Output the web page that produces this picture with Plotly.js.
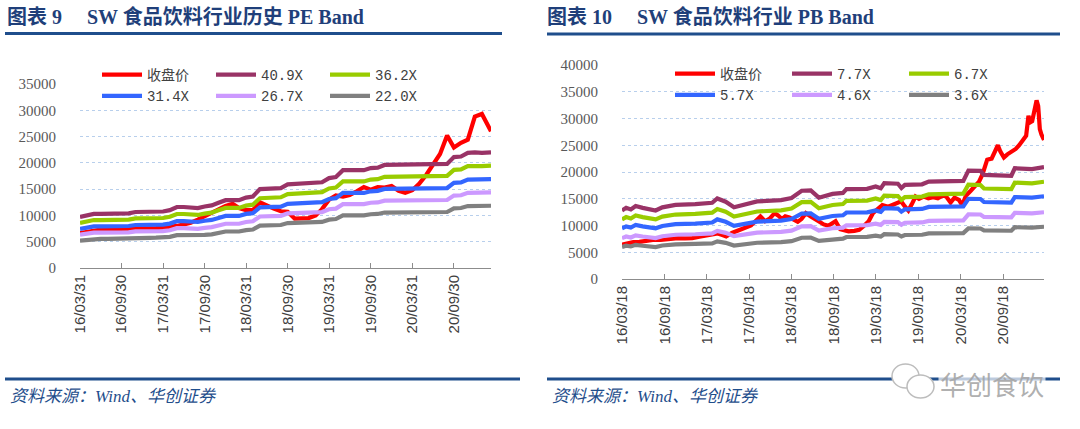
<!DOCTYPE html>
<html><head><meta charset="utf-8">
<script src="https://cdn.plot.ly/plotly-3.0.1.min.js"></script>
<style>
body{margin:0;background:#fff;width:1080px;height:429px;overflow:hidden;position:relative}
#pe{position:absolute;left:0;top:0;width:540px;height:429px}
#pb{position:absolute;left:540px;top:0;width:540px;height:429px}
</style>
</head><body><div id="pe"></div><div id="pb"></div>
<script>
// ---------- PE Band (left) ----------
const peDates = ['2016-03-31','2016-04-30','2016-05-31','2016-06-30','2016-07-31','2016-08-31','2016-09-30','2016-10-31','2016-11-30','2016-12-31',
'2017-01-31','2017-02-28','2017-03-31','2017-04-30','2017-05-31','2017-06-30','2017-07-31','2017-08-31','2017-09-30','2017-10-31','2017-11-30','2017-12-31',
'2018-01-31','2018-02-28','2018-03-31','2018-04-30','2018-05-31','2018-06-30','2018-07-31','2018-08-31','2018-09-30','2018-10-31','2018-11-30','2018-12-31',
'2019-01-31','2019-02-28','2019-03-31','2019-04-30','2019-05-31','2019-06-30','2019-07-31','2019-08-31','2019-09-30','2019-10-31','2019-11-30','2019-12-31',
'2020-01-31','2020-02-29','2020-03-31','2020-04-30','2020-05-31','2020-06-30','2020-07-31','2020-08-31','2020-09-30','2020-10-31','2020-11-30','2020-12-31',
'2021-01-31','2021-03-12'];
const peClose = [6650,6900,7200,7300,7400,7400,7400,7400,7400,7450,7500,7600,7700,7800,8000,8300,8600,9200,9800,10600,
11200,11800,12200,11400,11000,11000,12500,11800,11300,10800,10700,9400,9400,9500,10000,11200,13000,13800,13600,13900,
14600,15400,14900,15400,15300,15600,14700,14300,14800,16000,17700,19600,21700,25200,22900,23800,24400,28800,29300,26000];
const pe409 = [9700,10000,10300,10300,10300,10300,10350,10400,10650,10650,10650,10700,10750,11000,11600,11600,11400,11400,11700,11900,
12400,12900,12900,12900,13400,13600,15000,15100,15100,15200,15900,16000,16200,16200,16200,16300,17100,17300,18600,18600,
18600,18600,19000,19100,19600,19600,19600,19600,19700,19700,19700,19700,19700,19800,21100,21200,21900,22000,21900,22000];
const pe362 = [8580,8850,9120,9120,9120,9120,9160,9200,9430,9430,9430,9470,9510,9740,10270,10270,10090,10090,10350,10530,
10970,11420,11420,11420,11860,12040,13280,13360,13360,13450,14070,14160,14340,14340,14340,14430,15130,15310,16460,16460,
16460,16460,16820,16900,17350,17350,17350,17350,17430,17430,17430,17430,17430,17520,18670,18760,19380,19470,19380,19470];
const pe314 = [7450,7680,7910,7910,7910,7910,7950,7990,8180,8180,8180,8220,8260,8450,8910,8910,8750,8750,8990,9140,
9520,9910,9910,9910,10290,10440,11520,11600,11600,11670,12210,12290,12440,12440,12440,12520,13130,13290,14280,14280,
14280,14280,14590,14670,15050,15050,15050,15050,15130,15130,15130,15130,15130,15210,16200,16280,16820,16900,16820,16900];
const pe267 = [6330,6530,6730,6730,6730,6730,6760,6790,6950,6950,6950,6990,7020,7180,7570,7570,7440,7440,7640,7770,
8100,8420,8420,8420,8750,8880,9800,9860,9860,9930,10380,10450,10580,10580,10580,10640,11170,11300,12150,12150,
12150,12150,12410,12470,12800,12800,12800,12800,12860,12860,12860,12860,12860,12930,13780,13840,14300,14370,14300,14370];
const pe220 = [5220,5380,5540,5540,5540,5540,5570,5600,5730,5730,5730,5760,5780,5920,6240,6240,6130,6130,6290,6400,
6670,6940,6940,6940,7210,7320,8070,8120,8120,8180,8550,8610,8720,8720,8720,8770,9200,9310,10010,10010,
10010,10010,10220,10280,10550,10550,10550,10550,10600,10600,10600,10600,10600,10650,11350,11410,11780,11840,11780,11840];
const peNames = ['收盘价','40.9X','36.2X','31.4X','26.7X','22.0X'];
const peTickVals = ['2016-03-31','2016-09-30','2017-03-31','2017-09-30','2018-03-31','2018-09-30','2019-03-31','2019-09-30','2020-03-31','2020-09-30'];
const peTickText = ['16/03/31','16/09/30','17/03/31','17/09/30','18/03/31','18/09/30','19/03/31','19/09/30','20/03/31','20/09/30'];

// ---------- PB Band (right) ----------
const pbDates = ['2016-03-18','2016-04-15','2016-05-06','2016-06-01','2016-06-20','2016-07-15','2016-08-05','2016-09-01','2016-09-20','2016-10-15','2016-11-15','2016-12-15',
'2017-01-15','2017-02-15','2017-03-15','2017-04-12','2017-05-05','2017-05-25','2017-06-10','2017-07-05','2017-07-25','2017-08-20','2017-09-07','2017-09-25','2017-10-10','2017-11-05','2017-11-25','2017-12-15',
'2018-01-05','2018-01-20','2018-02-05','2018-02-20','2018-03-10','2018-04-01','2018-04-15','2018-05-01','2018-05-20','2018-06-10','2018-06-25','2018-07-15','2018-08-05','2018-08-25','2018-09-12','2018-09-25','2018-10-15','2018-11-01','2018-11-20','2018-12-15',
'2019-01-05','2019-01-25','2019-02-15','2019-03-05','2019-03-25','2019-04-15','2019-05-10','2019-05-30','2019-06-20','2019-07-05','2019-07-20','2019-08-05','2019-08-20','2019-09-05','2019-09-20','2019-10-10','2019-10-30','2019-11-20','2019-12-10','2019-12-31',
'2020-01-15','2020-02-03','2020-02-20','2020-03-10','2020-03-24','2020-04-10','2020-04-30','2020-05-20','2020-06-05','2020-06-20','2020-07-01','2020-07-10','2020-07-29','2020-08-10','2020-08-25','2020-09-05','2020-09-20','2020-10-05','2020-10-22','2020-11-10','2020-11-25','2020-12-10','2020-12-25',
'2021-01-04','2021-01-12','2021-01-20','2021-02-01','2021-02-08','2021-02-15','2021-02-22','2021-03-01','2021-03-12'];
const pbClose = [6400,6700,6900,6950,7050,7300,7350,7300,7400,7500,7650,7600,
7650,7900,8100,8300,8500,8200,7950,8600,8900,9300,9550,10000,10600,11700,10800,11300,
12300,11900,11200,11700,11500,10900,10700,11200,12300,11700,11300,10700,10200,9950,10400,10800,9300,9200,8900,9000,
9200,9900,10800,12300,13000,13800,13500,13900,14400,14500,13600,12800,14000,15400,15000,15400,15100,15300,15100,15600,
15400,14300,15200,14800,13800,15600,16500,17300,18200,19600,21000,22300,22500,23500,25000,23800,22700,23300,23800,24300,25000,25800,26800,
30500,29300,29500,32000,33400,32300,28000,27000,26000];
const pbBandDates = ['2016-03-18','2016-04-05','2016-04-25','2016-05-16','2016-06-15','2016-07-15','2016-08-10','2016-09-08','2016-11-04','2017-01-28',
'2017-04-11','2017-05-03','2017-06-08','2017-07-14','2017-09-02','2017-10-22','2018-02-02','2018-03-19','2018-05-02','2018-06-10',
'2018-07-15','2018-09-12','2018-10-27','2018-11-11','2019-02-08','2019-03-17','2019-04-08','2019-04-23','2019-06-21','2019-07-06',
'2019-07-21','2019-10-03','2019-11-01','2020-03-29','2020-04-20','2020-06-11','2020-06-26','2020-10-22','2020-11-06','2021-01-19','2021-03-12'];
const pb77 = [12800,13300,13000,13650,13300,13000,12800,13400,13850,14000,14250,15050,14450,13400,14050,14500,14750,15150,16500,16550,
15200,15900,16100,16800,16850,17300,16950,17900,17800,17000,17600,17700,18200,18350,20250,20200,19450,19300,20700,20550,20900];
const pb67 = [11140,11570,11310,11880,11570,11310,11140,11660,12050,12180,12400,13090,12570,11660,12220,12620,12830,13180,14360,14400,
13220,13830,14010,14620,14660,15050,14750,15570,15490,14790,15310,15400,15830,15960,17620,17570,16920,16790,18010,17880,18180];
const pb57 = [9470,9840,9620,10100,9840,9620,9470,9920,10250,10360,10550,11140,10690,9920,10400,10730,10920,11210,12210,12250,
11250,11770,11910,12430,12470,12800,12540,13250,13170,12580,13020,13100,13470,13580,14990,14950,14390,14280,15320,15210,15470];
const pb46 = [7640,7940,7760,8150,7940,7760,7640,8000,8270,8360,8510,8980,8630,8000,8390,8660,8810,9040,9850,9880,
9070,9490,9610,10030,10060,10330,10120,10690,10630,10150,10510,10570,10870,10950,12090,12060,11610,11520,12360,12270,12480];
const pb36 = [5980,6220,6080,6380,6220,6080,5980,6260,6470,6550,6660,7040,6760,6260,6570,6780,6900,7080,7710,7740,
7110,7430,7530,7850,7880,8090,7920,8370,8320,7950,8230,8270,8510,8580,9470,9440,9090,9020,9680,9610,9770];
const pbNames = ['收盘价','7.7X','6.7X','5.7X','4.6X','3.6X'];
const pbTickVals = ['2016-03-18','2016-09-18','2017-03-18','2017-09-18','2018-03-18','2018-09-18','2019-03-18','2019-09-18','2020-03-18','2020-09-18'];
const pbTickText = ['16/03/18','16/09/18','17/03/18','17/09/18','18/03/18','18/09/18','19/03/18','19/09/18','20/03/18','20/09/18'];

const COLORS = ['#ff0000','#993366','#99cc00','#3366ff','#cc99ff','#808080'];
const BLUE = '#1f4e8c';

function build(div, c){
  const W=540,H=429,m=c.m;
  const pw=W-m.l-m.r, ph=H-m.t-m.b;
  const X=px=>(px-m.l)/pw, Y=py=>(H-m.b-py)/ph;
  const traces=c.series.map((s,i)=>({type:'scatter',mode:'lines',x:s.x,y:s.y,name:s.name,
     line:{color:COLORS[i],width:4.2},hoverinfo:'skip'}));
  const shapes=[
    {type:'line',xref:'paper',yref:'paper',x0:X(c.topRule[0]),x1:X(c.topRule[1]),y0:Y(c.topRule[2]),y1:Y(c.topRule[2]),line:{color:BLUE,width:3}},
    {type:'line',xref:'paper',yref:'paper',x0:X(c.botRule[0]),x1:X(c.botRule[1]),y0:Y(c.botRule[2]),y1:Y(c.botRule[2]),line:{color:BLUE,width:3}}
  ];
  const ann=[
    {xref:'paper',yref:'paper',x:X(c.src[0]),y:Y(c.src[1]),xanchor:'left',yanchor:'middle',showarrow:false,
     text:'资料来源：Wind、华创证券',font:{family:'Liberation Serif, Noto Sans CJK SC',size:17,color:BLUE,style:'italic'}}
  ];
  if(c.mark){
    shapes.push({type:'circle',xref:'paper',yref:'paper',x0:X(352),x1:X(379),y0:Y(364),y1:Y(388),fillcolor:'#fff',line:{color:'#bdbdbd',width:1.5}});
    shapes.push({type:'circle',xref:'paper',yref:'paper',x0:X(367),x1:X(394),y0:Y(375),y1:Y(398),fillcolor:'#fff',line:{color:'#bdbdbd',width:1.5}});
    ann.push({xref:'paper',yref:'paper',x:X(398),y:Y(383),xanchor:'left',yanchor:'middle',showarrow:false,bgcolor:'rgba(255,255,255,0.7)',
      text:'华创食饮',font:{family:'Noto Sans CJK SC',size:26,color:'rgba(165,165,165,0.9)'}});
  }
  const layout={
    width:W,height:H,margin:m,paper_bgcolor:'#fff',plot_bgcolor:'rgba(0,0,0,0)',showlegend:true,
    title:{text:c.title,xref:'container',yref:'container',x:7/W,xanchor:'left',y:1-17/H,yanchor:'middle',
      font:{family:'Liberation Serif, Noto Sans CJK SC',size:20,color:'#1f3f7a',weight:700}},
    xaxis:{type:'date',range:c.xr,tickmode:'array',tickvals:c.tv,ticktext:c.tt,tickangle:-90,ticks:'inside',ticklen:5,
      tickcolor:'#8c8c8c',showline:true,linecolor:'#8c8c8c',linewidth:1,showgrid:false,zeroline:false,
      tickfont:{family:'Liberation Sans, Arial',size:15,color:'#404040'}},
    yaxis:{range:[0,c.ymax],tickmode:'linear',tick0:0,dtick:5000,tickformat:'d',showgrid:true,gridcolor:'#b8cfec',griddash:'dot',gridwidth:1,
      zeroline:false,showline:false,ticks:'outside',ticklen:20,tickcolor:'rgba(0,0,0,0)',
      tickfont:{family:'Liberation Serif',size:15,color:'#595959'}},
    legend:{orientation:'h',x:X(c.leg[0]),y:Y(c.leg[1]),xanchor:'left',yanchor:'top',bgcolor:'rgba(0,0,0,0)',
      font:{family:'Liberation Mono, Noto Sans CJK SC',size:14,color:'#404040'},
      entrywidth:c.leg[2],entrywidthmode:'pixels',itemwidth:40,tracegroupgap:0,traceorder:'normal'},
    shapes:shapes,annotations:ann
  };
  Plotly.newPlot(div,traces,layout,{staticPlot:true,displayModeBar:false});
}

build('pe',{
  m:{l:80,r:49,t:84,b:161},
  title:'图表 9　 SW 食品饮料行业历史 PE Band',
  series:[{x:peDates,y:peClose,name:peNames[0]},{x:peDates,y:pe409,name:peNames[1]},{x:peDates,y:pe362,name:peNames[2]},
          {x:peDates,y:pe314,name:peNames[3]},{x:peDates,y:pe267,name:peNames[4]},{x:peDates,y:pe220,name:peNames[5]}],
  xr:['2016-03-31','2021-03-12'],tv:peTickVals,tt:peTickText,ymax:35000,
  leg:[97,59,59],
  topRule:[5,502,33.5],botRule:[5,520,379],src:[8,396],mark:false
});
build('pb',{
  m:{l:82,r:36,t:65,b:150},
  title:'图表 10　 SW 食品饮料行业 PB Band',
  series:[{x:pbDates,y:pbClose,name:pbNames[0]},{x:pbBandDates,y:pb77,name:pbNames[1]},{x:pbBandDates,y:pb67,name:pbNames[2]},
          {x:pbBandDates,y:pb57,name:pbNames[3]},{x:pbBandDates,y:pb46,name:pbNames[4]},{x:pbBandDates,y:pb36,name:pbNames[5]}],
  xr:['2016-03-18','2021-03-12'],tv:pbTickVals,tt:pbTickText,ymax:40000,
  leg:[130,58,62],
  topRule:[7,520,34],botRule:[7,520,379],src:[10,396],mark:true
});
</script>
</body></html>
